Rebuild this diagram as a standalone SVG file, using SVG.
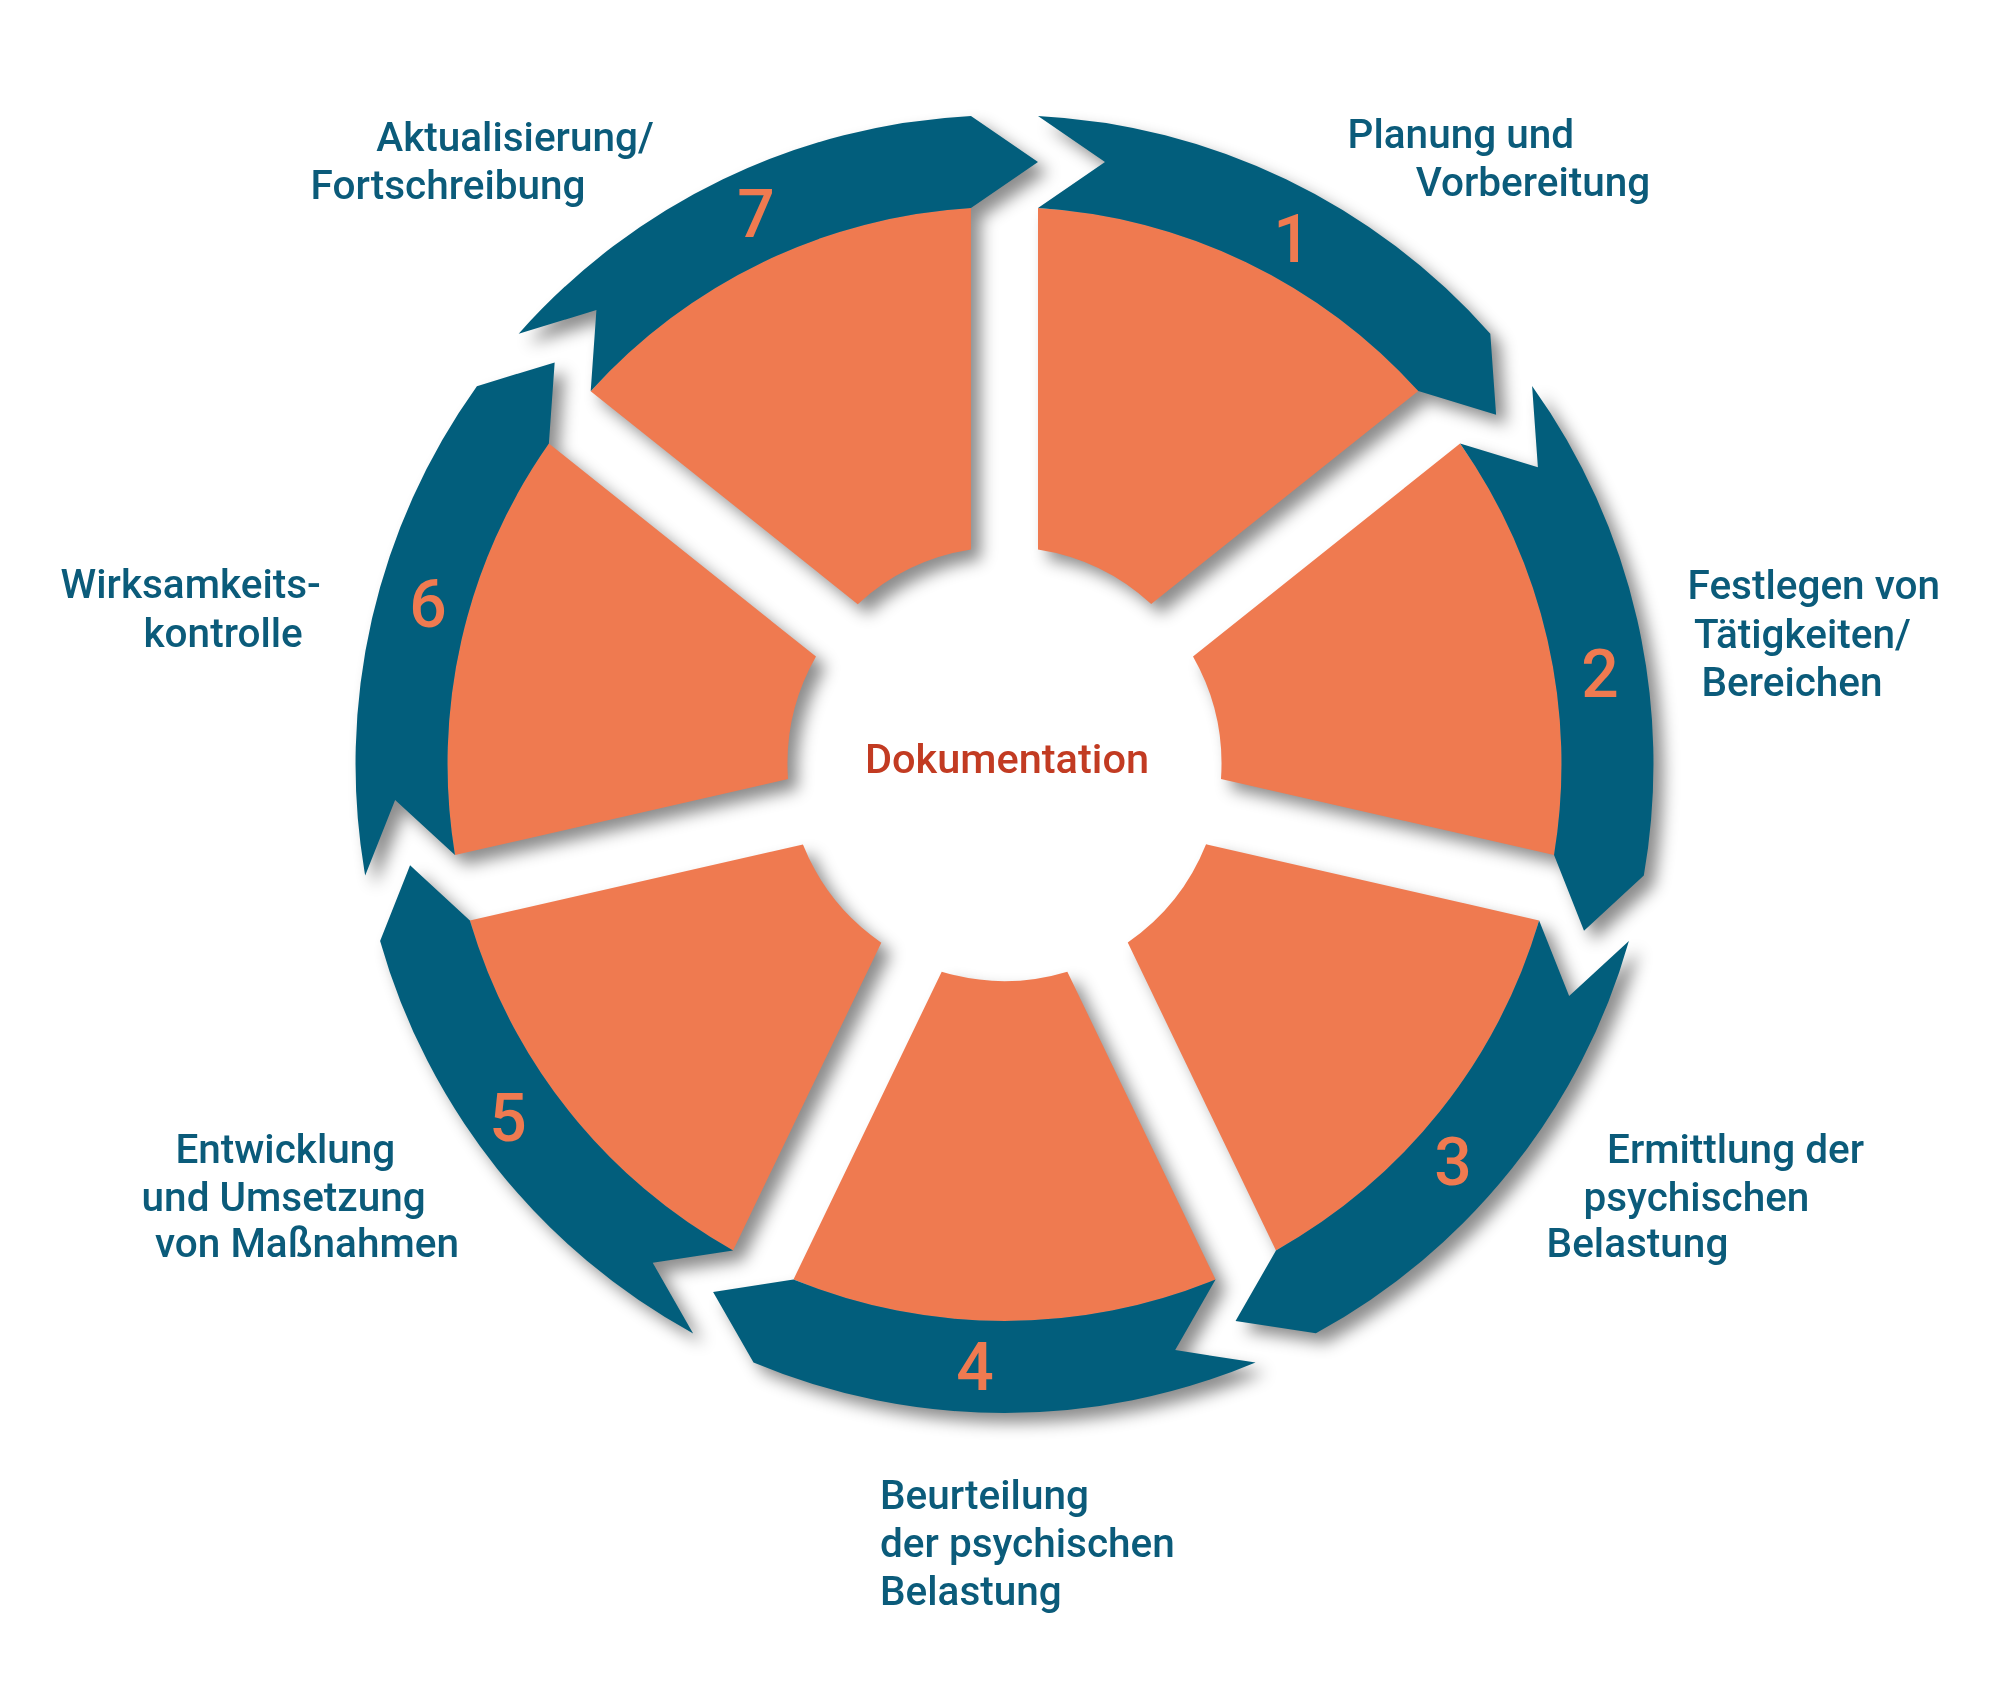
<svg xmlns="http://www.w3.org/2000/svg" width="2000" height="1704" viewBox="0 0 2000 1704">
<style>
.wedge{fill:#ef7a50}
.band{fill:#025e7c}
.num{font-family:Roboto,"Liberation Sans",sans-serif;font-weight:500;font-size:66px;fill:#ef7a50;text-anchor:middle}
.lbl{font-family:Roboto,"Liberation Sans",sans-serif;font-weight:500;font-size:40.5px;fill:#0b5b7a}
.center{font-family:Roboto,"Liberation Sans",sans-serif;font-weight:500;font-size:41.5px;fill:#c23b22;text-anchor:middle}
</style>
<defs>
<path id="wedge" d="M33.5,-556 A557,557 0 0 1 413.8,-372.9 L146.7,-159.9 A217,217 0 0 0 33.5,-214.4 Z"/>
<path id="band" d="M33.5,-648.1 A649,649 0 0 1 485.8,-430.3 L491.6,-349.2 L413.8,-372.9 A557,557 0 0 0 33.5,-556 L100.5,-602.1 Z"/>
<filter id="ds" x="-10%" y="-10%" width="125%" height="125%">
<feGaussianBlur in="SourceAlpha" stdDeviation="8"/>
<feOffset dx="10" dy="10" result="b"/>
<feFlood flood-color="#000" flood-opacity="0.45"/>
<feComposite in2="b" operator="in"/>
</filter>
</defs>
<rect width="2000" height="1704" fill="#fff"/>
<g id="shadows" filter="url(#ds)" transform="translate(1004.5,764)">
<use href="#wedge"/><use href="#band"/>
<use href="#wedge" transform="rotate(51.4286)"/><use href="#band" transform="rotate(51.4286)"/>
<use href="#wedge" transform="rotate(102.8571)"/><use href="#band" transform="rotate(102.8571)"/>
<use href="#wedge" transform="rotate(154.2857)"/><use href="#band" transform="rotate(154.2857)"/>
<use href="#wedge" transform="rotate(205.7143)"/><use href="#band" transform="rotate(205.7143)"/>
<use href="#wedge" transform="rotate(257.1429)"/><use href="#band" transform="rotate(257.1429)"/>
<use href="#wedge" transform="rotate(308.5714)"/><use href="#band" transform="rotate(308.5714)"/>
</g>
<g id="step1">
<use href="#wedge" class="wedge" transform="translate(1004.5,764)"/>
<use href="#band" class="band" transform="translate(1004.5,764)"/>
<text class="num" x="1292" y="262">1</text>
<text class="lbl"><tspan x="1347.6" y="148">Planung und</tspan><tspan x="1415.8" y="196">Vorbereitung</tspan></text>
</g>
<g id="step2">
<use href="#wedge" class="wedge" transform="translate(1004.5,764) rotate(51.4286)"/>
<use href="#band" class="band" transform="translate(1004.5,764) rotate(51.4286)"/>
<text class="num" x="1600" y="697">2</text>
<text class="lbl"><tspan x="1687.5" y="599">Festlegen von</tspan><tspan x="1693.9" y="648">Tätigkeiten/</tspan><tspan x="1701.5" y="696">Bereichen</tspan></text>
</g>
<g id="step3">
<use href="#wedge" class="wedge" transform="translate(1004.5,764) rotate(102.8571)"/>
<use href="#band" class="band" transform="translate(1004.5,764) rotate(102.8571)"/>
<text class="num" x="1453" y="1185">3</text>
<text class="lbl"><tspan x="1607" y="1163">Ermittlung der</tspan><tspan x="1583.5" y="1211">psychischen</tspan><tspan x="1546.6" y="1257">Belastung</tspan></text>
</g>
<g id="step4">
<use href="#wedge" class="wedge" transform="translate(1004.5,764) rotate(154.2857)"/>
<use href="#band" class="band" transform="translate(1004.5,764) rotate(154.2857)"/>
<text class="num" x="975" y="1390">4</text>
<text class="lbl"><tspan x="880" y="1508.5">Beurteilung</tspan><tspan x="880" y="1557">der psychischen</tspan><tspan x="880" y="1605">Belastung</tspan></text>
</g>
<g id="step5">
<use href="#wedge" class="wedge" transform="translate(1004.5,764) rotate(205.7143)"/>
<use href="#band" class="band" transform="translate(1004.5,764) rotate(205.7143)"/>
<text class="num" x="508" y="1141">5</text>
<text class="lbl"><tspan x="175.4" y="1163">Entwicklung</tspan><tspan x="141.6" y="1211">und Umsetzung</tspan><tspan x="155" y="1257">von Maßnahmen</tspan></text>
</g>
<g id="step6">
<use href="#wedge" class="wedge" transform="translate(1004.5,764) rotate(257.1429)"/>
<use href="#band" class="band" transform="translate(1004.5,764) rotate(257.1429)"/>
<text class="num" x="428" y="627">6</text>
<text class="lbl"><tspan x="60.6" y="598">Wirksamkeits-</tspan><tspan x="143.5" y="647">kontrolle</tspan></text>
</g>
<g id="step7">
<use href="#wedge" class="wedge" transform="translate(1004.5,764) rotate(308.5714)"/>
<use href="#band" class="band" transform="translate(1004.5,764) rotate(308.5714)"/>
<text class="num" x="756" y="237">7</text>
<text class="lbl"><tspan x="376.3" y="150.5">Aktualisierung/</tspan><tspan x="310.6" y="198.5">Fortschreibung</tspan></text>
</g>
<g id="center">
<text class="center" x="1007" y="772.7">Dokumentation</text>
</g>
<g id="connectors"></g>
</svg>
